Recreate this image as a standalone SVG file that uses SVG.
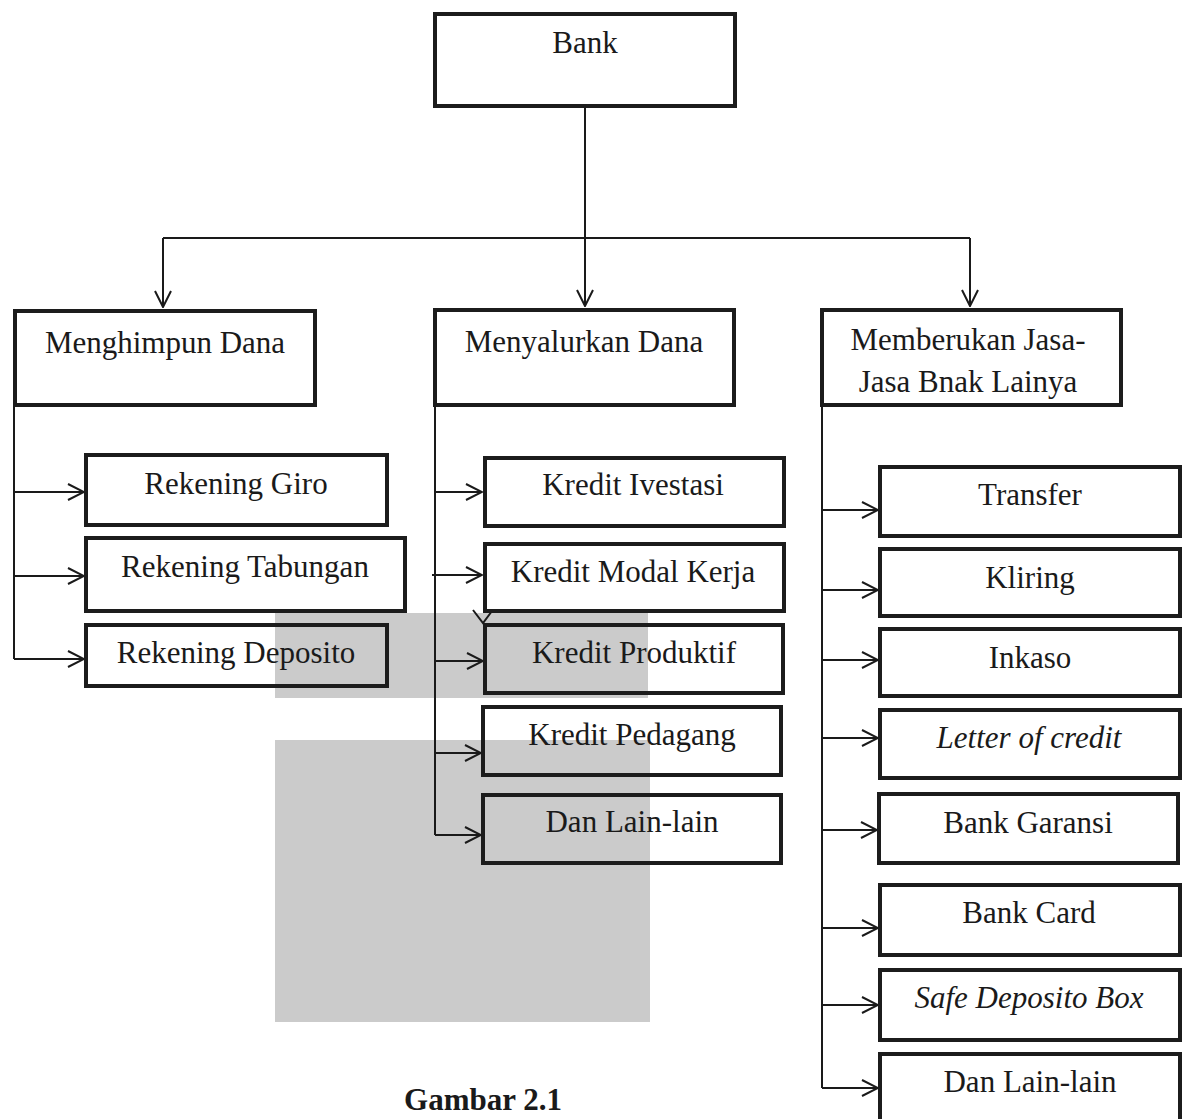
<svg xmlns="http://www.w3.org/2000/svg" width="1188" height="1119" viewBox="0 0 1188 1119">
<defs>
<style>
.box{fill:none;stroke:#1c1c1c;stroke-width:4}
.t{font-family:"Liberation Serif","Times New Roman",serif;font-size:31px;fill:#1a1a1a;text-anchor:middle}
.i{font-style:italic}
.b{font-weight:bold}
.c{fill:none;stroke:#1a1a1a;stroke-width:2}
.wm{fill:#cbcbcb}
</style>
<marker id="ah" viewBox="0 0 18 18" refX="17" refY="9" markerWidth="18" markerHeight="18" markerUnits="userSpaceOnUse" orient="auto">
<path d="M1,1 L17,9 L1,17" fill="none" stroke="#1a1a1a" stroke-width="2"/>
</marker>
<clipPath id="clipJasa"><rect x="824" y="312" width="295" height="91"/></clipPath>
</defs>
<rect x="0" y="0" width="1188" height="1119" fill="#ffffff"/>
<g id="watermark">
<rect class="wm" x="275" y="613" width="373" height="85"/>
<rect class="wm" x="275" y="740" width="375" height="282"/>
</g>
<g id="connectors">
<path class="c" d="M585,108 L585,306" marker-end="url(#ah)"/>
<path class="c" d="M163,238 L970,238" stroke-width="1.5"/>
<path class="c" d="M163,238 L163,307" marker-end="url(#ah)"/>
<path class="c" d="M970,238 L970,306" marker-end="url(#ah)"/>
<path class="c" d="M14,407 L14,659"/>
<path class="c" d="M14,492 L84,492" marker-end="url(#ah)"/>
<path class="c" d="M14,576 L84,576" marker-end="url(#ah)"/>
<path class="c" d="M14,659 L84,659" marker-end="url(#ah)"/>
<path class="c" d="M435,407 L435,835"/>
<path class="c" d="M435,492 L482,492" marker-end="url(#ah)"/>
<path class="c" d="M432,575 L482,575" marker-end="url(#ah)"/>
<path class="c" d="M435,661 L483,661" marker-end="url(#ah)"/>
<path class="c" d="M435,753 L481,753" marker-end="url(#ah)"/>
<path class="c" d="M435,835 L481,835" marker-end="url(#ah)"/>
<path class="c" d="M473,610 L483,623 L492,611"/>
<path class="c" d="M822,407 L822,1088"/>
<path class="c" d="M822,510 L878,510" marker-end="url(#ah)"/>
<path class="c" d="M822,590 L878,590" marker-end="url(#ah)"/>
<path class="c" d="M822,660 L878,660" marker-end="url(#ah)"/>
<path class="c" d="M822,738 L878,738" marker-end="url(#ah)"/>
<path class="c" d="M822,830 L877,830" marker-end="url(#ah)"/>
<path class="c" d="M822,928 L878,928" marker-end="url(#ah)"/>
<path class="c" d="M822,1005 L878,1005" marker-end="url(#ah)"/>
<path class="c" d="M822,1088 L878,1088" marker-end="url(#ah)"/>
</g>
<g id="bank"><rect class="box" x="435" y="14" width="300" height="92"/><text class="t" x="585" y="53">Bank</text></g>
<g id="menghimpun"><rect class="box" x="15" y="311" width="300" height="94"/><text class="t" x="165" y="353">Menghimpun Dana</text></g>
<g id="menyalurkan"><rect class="box" x="435" y="310" width="299" height="95"/><text class="t" x="584" y="352">Menyalurkan Dana</text></g>
<g id="memberukan"><rect class="box" x="822" y="310" width="299" height="95"/><text class="t" x="968" y="350">Memberukan Jasa-</text><text class="t" x="968" y="392" clip-path="url(#clipJasa)">Jasa Bnak Lainya</text></g>
<g id="rek-giro"><rect class="box" x="86" y="455" width="301" height="70"/><text class="t" x="236" y="494">Rekening Giro</text></g>
<g id="rek-tabungan"><rect class="box" x="86" y="538" width="319" height="73"/><text class="t" x="245" y="577">Rekening Tabungan</text></g>
<g id="rek-deposito"><rect class="box" x="86" y="625" width="301" height="61"/><text class="t" x="236" y="663">Rekening Deposito</text></g>
<g id="kr-investasi"><rect class="box" x="485" y="458" width="299" height="68"/><text class="t" x="633" y="495">Kredit Ivestasi</text></g>
<g id="kr-modal"><rect class="box" x="485" y="544" width="299" height="67"/><text class="t" x="633" y="582">Kredit Modal Kerja</text></g>
<g id="kr-produktif"><rect class="box" x="485" y="625" width="298" height="68"/><text class="t" x="634" y="663">Kredit Produktif</text></g>
<g id="kr-pedagang"><rect class="box" x="483" y="707" width="298" height="68"/><text class="t" x="632" y="745">Kredit Pedagang</text></g>
<g id="mid-lain"><rect class="box" x="483" y="795" width="298" height="68"/><text class="t" x="632" y="832">Dan Lain-lain</text></g>
<g id="transfer"><rect class="box" x="880" y="467" width="300" height="69"/><text class="t" x="1030" y="505">Transfer</text></g>
<g id="kliring"><rect class="box" x="880" y="549" width="300" height="67"/><text class="t" x="1030" y="588">Kliring</text></g>
<g id="inkaso"><rect class="box" x="880" y="629" width="300" height="67"/><text class="t" x="1030" y="668">Inkaso</text></g>
<g id="lc"><rect class="box" x="880" y="710" width="300" height="68"/><text class="t i" x="1029" y="748">Letter of credit</text></g>
<g id="garansi"><rect class="box" x="879" y="794" width="299" height="69"/><text class="t" x="1028" y="833">Bank Garansi</text></g>
<g id="card"><rect class="box" x="880" y="885" width="300" height="70"/><text class="t" x="1029" y="923">Bank Card</text></g>
<g id="sdb"><rect class="box" x="880" y="970" width="300" height="70"/><text class="t i" x="1029" y="1008">Safe Deposito Box</text></g>
<g id="right-lain"><rect class="box" x="880" y="1054" width="300" height="80"/><text class="t" x="1030" y="1092">Dan Lain-lain</text></g>
<text class="t b" x="483" y="1110">Gambar 2.1</text>
</svg>
